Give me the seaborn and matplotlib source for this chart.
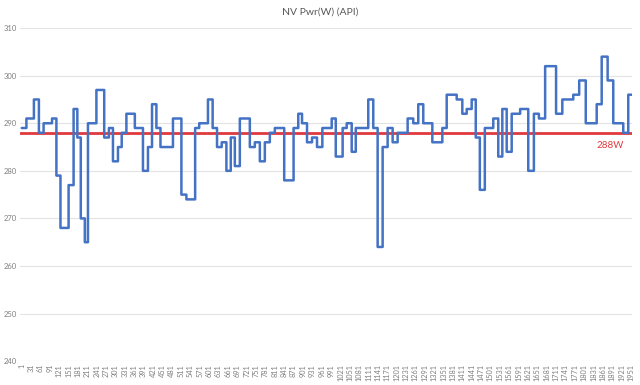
import numpy as np
import pandas as pd
import seaborn as sns
import matplotlib
matplotlib.use("Agg")
import matplotlib.pyplot as plt

# step change points (sample index where a new reading starts) and readings
change_idx = [1, 16, 40, 56, 71, 98, 112, 125, 151, 167, 179, 190, 203, 213, 240,
              265, 280, 293, 309, 321, 336, 363, 389, 405, 418, 432, 445, 485, 512,
              528, 556, 569, 597, 612, 626, 641, 656, 670, 683, 699, 731, 747, 763,
              779, 795, 811, 841, 871, 886, 898, 914, 930, 946, 963, 993, 1006, 1028,
              1041, 1057, 1070, 1110, 1126, 1140, 1156, 1172, 1188, 1204, 1236, 1254,
              1270, 1286, 1315, 1347, 1361, 1393, 1411, 1425, 1441, 1454, 1467, 1483,
              1510, 1526, 1539, 1553, 1569, 1596, 1622, 1640, 1656, 1676, 1711, 1731,
              1766, 1785, 1806, 1841, 1857, 1876, 1894, 1926, 1942]
power_w = [289, 291, 295, 288, 290, 291, 279, 268, 277, 293, 287, 270, 265, 290, 297,
           287, 289, 282, 285, 288, 292, 289, 280, 285, 294, 289, 285, 291, 275,
           274, 289, 290, 295, 289, 285, 286, 280, 287, 281, 291, 285, 286, 282,
           286, 288, 289, 278, 289, 292, 290, 286, 287, 285, 289, 291, 283, 289,
           290, 284, 289, 295, 289, 264, 285, 289, 286, 288, 291, 290,
           294, 290, 286, 289, 296, 295, 292, 293, 295, 287, 276, 289,
           291, 283, 293, 284, 292, 293, 280, 292, 291, 302, 292, 295,
           296, 299, 290, 294, 304, 299, 290, 288, 296]
n_samples = 1954
target_w = 288

y_ticks = [240, 250, 260, 270, 280, 290, 300, 310]
x_ticks = list(range(1, 1952, 30))

lengths = np.diff(change_idx + [n_samples + 1])
df = pd.DataFrame({
    "sample": np.arange(1, n_samples + 1),
    "watts": np.repeat(power_w, lengths),
})

sns.set_style("white")
plt.rcParams["font.family"] = ["Lato", "DejaVu Sans"]

fig = plt.figure(figsize=(6.4, 3.85), dpi=100)
ax = fig.add_axes([0.031, 0.062, 0.957, 0.865])

ax.axhline(target_w, color="#e0393e", lw=2, zorder=3)
sns.lineplot(data=df, x="sample", y="watts", ax=ax, color="#4472c4", lw=1.8,
             drawstyle="steps-post", zorder=4)

ax.text(1884, target_w - 2.7, f"{target_w}W", color="#e0393e", fontsize=7,
        ha="center", va="center")

ax.set_ylim(240, 310)
ax.set_xlim(-5, 1955)
ax.set_yticks(y_ticks)
ax.set_xticks(x_ticks)
ax.set_xticklabels([str(t) for t in x_ticks], rotation=90, fontsize=5.3, color="#7f7f7f")
ax.set_yticklabels([str(t) for t in y_ticks], fontsize=5.5, color="#7f7f7f")
ax.tick_params(axis="both", length=0, pad=2)
ax.yaxis.grid(True, color="#e3e3e3", lw=0.8)
ax.set_axisbelow(True)
for s in ax.spines.values():
    s.set_visible(False)
ax.set_xlabel("")
ax.set_ylabel("")
fig.text(0.5, 0.968, "NV Pwr(W) (API)", ha="center", va="center", fontsize=7.5,
         color="#595959")

fig.savefig("out.png", dpi=100)
